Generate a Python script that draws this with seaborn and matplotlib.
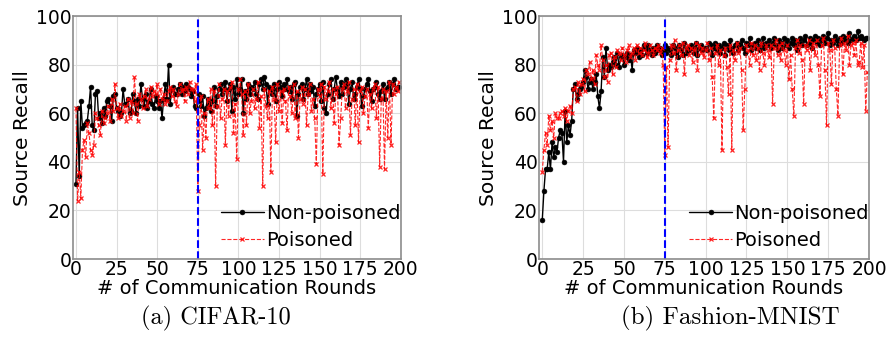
import numpy as np
import pandas as pd
import seaborn as sns
import matplotlib.pyplot as plt

# source recall per round
cifar_clean = [
    31, 62, 34, 65, 54, 55, 56, 57, 63, 71,
    55, 53, 68, 69, 58, 60, 56, 62, 59, 65,
    66, 63, 57, 67, 68, 62, 61, 59, 60, 70,
    64, 64, 66, 60, 61, 68, 65, 60, 66, 63,
    72, 66, 63, 68, 62, 65, 70, 64, 62, 67,
    65, 62, 65, 58, 66, 72, 66, 80, 64, 70,
    71, 68, 68, 70, 72, 68, 71, 69, 72, 71,
    70, 67, 69, 63, 62, 65, 68, 63, 67, 59,
    62, 66, 64, 61, 65, 71, 63, 67, 70, 72,
    68, 70, 73, 65, 70, 72, 61, 71, 66, 74,
    68, 70, 74, 60, 69, 66, 72, 68, 71, 70,
    73, 68, 66, 72, 74, 70, 75, 72, 64, 71,
    70, 68, 72, 65, 70, 73, 71, 67, 72, 70,
    74, 69, 71, 66, 72, 73, 59, 68, 71, 72,
    66, 70, 74, 68, 72, 69, 71, 63, 68, 70,
    72, 65, 73, 62, 60, 68, 72, 74, 66, 70,
    75, 70, 67, 73, 68, 71, 74, 72, 64, 70,
    73, 66, 68, 71, 74, 70, 63, 67, 70, 72,
    74, 69, 65, 70, 71, 73, 68, 66, 69, 72,
    66, 70, 71, 73, 68, 72, 74, 70, 71, 71,
]
cifar_poison = [
    62, 24, 36, 25, 45, 49, 42, 56, 52, 45,
    43, 47, 60, 58, 55, 51, 61, 56, 58, 60,
    63, 57, 66, 61, 72, 62, 58, 64, 59, 61,
    63, 57, 66, 58, 65, 60, 75, 64, 57, 68,
    66, 62, 67, 70, 63, 66, 71, 67, 69, 68,
    72, 64, 70, 66, 68, 64, 65, 69, 71, 67,
    70, 65, 63, 68, 72, 69, 70, 65, 71, 68,
    73, 70, 70, 65, 72, 28, 55, 67, 45, 60,
    50, 66, 62, 70, 55, 69, 30, 63, 72, 58,
    66, 70, 47, 69, 59, 71, 73, 52, 64, 41,
    70, 74, 68, 51, 69, 55, 72, 60, 65, 70,
    62, 66, 73, 54, 67, 30, 70, 63, 58, 69,
    36, 71, 66, 48, 72, 61, 69, 56, 70, 65,
    53, 71, 67, 60, 72, 58, 69, 50, 66, 71,
    64, 70, 55, 68, 72, 61, 66, 58, 39, 70,
    67, 72, 35, 71, 66, 69, 73, 62, 70, 56,
    68, 71, 47, 58, 70, 72, 62, 69, 73, 51,
    66, 70, 55, 72, 48, 69, 71, 60, 67, 70,
    54, 68, 62, 70, 72, 58, 71, 38, 66, 70,
    37, 69, 50, 73, 47, 72, 68, 71, 69, 73,
]
fmnist_clean = [
    16, 28, 37, 37, 44, 37, 48, 42, 46, 44,
    50, 53, 52, 40, 61, 48, 55, 51, 57, 70,
    72, 66, 68, 70, 71, 73, 78, 75, 70, 73,
    74, 70, 73, 76, 67, 62, 69, 83, 75, 87,
    78, 80, 79, 81, 83, 80, 85, 79, 83, 84,
    80, 83, 85, 82, 84, 78, 86, 85, 87, 83,
    86, 84, 88, 87, 85, 88, 86, 84, 87, 85,
    88, 86, 87, 84, 86, 88, 85, 87, 86, 84,
    88, 87, 85, 83, 88, 86, 84, 89, 85, 87,
    86, 88, 87, 85, 89, 84, 87, 88, 86, 87,
    87, 86, 89, 88, 84, 87, 89, 86, 88, 85,
    87, 89, 84, 88, 86, 90, 87, 85, 88, 89,
    86, 88, 90, 87, 85, 89, 88, 91, 86, 88,
    89, 87, 90, 86, 88, 91, 87, 89, 88, 90,
    87, 89, 91, 88, 86, 90, 89, 87, 91, 88,
    90, 87, 89, 91, 88, 90, 86, 89, 91, 88,
    90, 92, 88, 89, 91, 87, 90, 92, 89, 91,
    88, 90, 92, 89, 91, 93, 88, 90, 89, 92,
    90, 88, 91, 89, 92, 90, 91, 89, 93, 90,
    91, 92, 90, 94, 91, 92, 91, 90, 91, 91,
]
fmnist_poison = [
    36, 45, 52, 47, 59, 53, 57, 50, 60, 58,
    58, 60, 61, 59, 62, 57, 61, 63, 60, 70,
    71, 65, 73, 68, 72, 74, 69, 78, 76, 81,
    74, 78, 72, 84, 80, 78, 88, 82, 75, 80,
    73, 84, 85, 76, 83, 79, 86, 85, 82, 87,
    84, 81, 86, 88, 83, 85, 87, 82, 88, 85,
    87, 84, 86, 89, 83, 85, 88, 86, 84, 87,
    86, 88, 85, 87, 80, 43, 79, 46, 82, 88,
    85, 90, 78, 86, 88, 84, 89, 76, 87, 88,
    84, 87, 81, 86, 89, 78, 88, 85, 87, 83,
    86, 89, 82, 87, 75, 58, 85, 88, 80, 86,
    45, 84, 87, 79, 68, 88, 45, 86, 82, 89,
    85, 87, 78, 53, 70, 88, 86, 80, 89, 84,
    88, 82, 87, 78, 89, 85, 80, 88, 86, 83,
    88, 64, 87, 90, 84, 88, 82, 89, 86, 80,
    88, 74, 84, 70, 59, 87, 90, 85, 88, 82,
    64, 88, 86, 90, 78, 87, 89, 84, 90, 80,
    67, 88, 91, 78, 55, 89, 86, 72, 90, 87,
    70, 59, 88, 91, 76, 89, 86, 92, 80, 88,
    89, 84, 90, 80, 81, 89, 79, 88, 61, 77,
]
rounds = np.arange(len(cifar_clean))
attack_round = 75
xticks = [0, 25, 50, 75, 100, 125, 150, 175, 200]
yticks = [0, 20, 40, 60, 80, 100]
captions = ["(a) CIFAR-10", "(b) Fashion-MNIST"]

sns.set_style('whitegrid', {'axes.edgecolor': '#8c8c8c', 'grid.color': '#dddddd',
                            'text.color': 'black', 'axes.labelcolor': 'black',
                            'xtick.color': 'black', 'ytick.color': 'black'})
plt.rcParams['font.family'] = ['DejaVu Sans']

fig = plt.figure(figsize=(8.89, 3.46), dpi=100)
ax1 = fig.add_axes([0.0818, 0.2514, 0.369, 0.702])
ax2 = fig.add_axes([0.6063, 0.2514, 0.3712, 0.702])

panels = [(ax1, cifar_clean, cifar_poison, captions[0], 0.243, 17.5),
          (ax2, fmnist_clean, fmnist_poison, captions[1], 0.822, 18)]
for ax, clean, poison, caption, cap_x, cap_size in panels:
    df = pd.DataFrame({"round": rounds, "clean": clean, "poison": poison})
    sns.lineplot(data=df, x="round", y="clean", ax=ax, color='black', linewidth=1,
                 marker='o', markersize=3.5, markeredgecolor='black',
                 markeredgewidth=0.4, label="Non-poisoned")
    sns.lineplot(data=df, x="round", y="poison", ax=ax, color='red', linewidth=0.8,
                 linestyle='--', marker='x', markersize=3.5, markeredgecolor='red',
                 markeredgewidth=0.9, alpha=0.85, label="Poisoned")
    ax.axvline(attack_round, color='blue', linestyle='--', linewidth=1.5)
    ax.set_xlim(-2, 200)
    ax.set_ylim(0, 100)
    ax.set_xticks(xticks)
    ax.set_yticks(yticks)
    ax.tick_params(axis='both', labelsize=13.5, pad=1, length=0)
    ax.set_xlabel("# of Communication Rounds", fontsize=14, labelpad=0)
    ax.set_ylabel("Source Recall", fontsize=14.5, labelpad=3)
    ax.legend(loc='lower right', frameon=False, fontsize=14, handlelength=2.2,
              handletextpad=0.1, borderaxespad=0.05, labelspacing=0.45,
              bbox_to_anchor=(1.025, 0.0))
    fig.text(cap_x, 0.081, caption, ha='center', va='center',
             fontsize=cap_size, family='cmr10')
    for s in ax.spines.values():
        s.set_linewidth(1.2)

plt.savefig("out.png", dpi=100)
